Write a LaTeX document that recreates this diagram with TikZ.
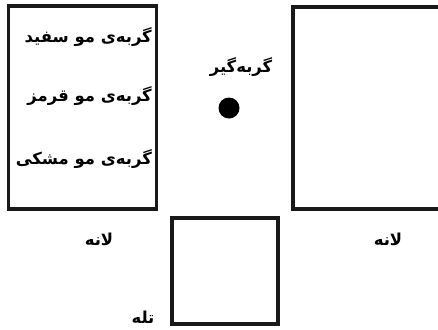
\documentclass[tikz,border=0pt]{standalone}
\usepackage{fontspec}
\newfontfamily\arabicfont[Script=Arabic]{DejaVu Sans}
\TeXXeTstate=1
\begin{document}
\begin{tikzpicture}[x=1bp,y=-1bp,
  box/.style={draw=black!90,line width=3.2bp},
  lbl/.style={font=\arabicfont\bfseries\fontsize{16.5}{18}\selectfont,inner sep=0pt},
  innerlbl/.style={lbl,anchor=east}]
\useasboundingbox (0,0) rectangle (438,329);
\draw[box] (8.5,6) rectangle (156.5,209);
\draw[box] (293,7) rectangle (450,209);
\draw[box] (172,218) rectangle (278,324);
\node[innerlbl] (t1) at (152,37) {\beginR گربه‌ی مو سفید\endR};
\node[innerlbl] (t2) at (152,96) {\beginR گربه‌ی مو قرمز\endR};
\node[innerlbl] (t3) at (152,159) {\beginR گربه‌ی مو مشکی\endR};
\node[lbl] (catcher) at (241,67) {\beginR گربه‌گیر\endR};
\fill (229,108) circle (10.5);
\node[lbl] (nest1) at (99,239) {\beginR لانه\endR};
\node[lbl] (nest2) at (388,239) {\beginR لانه\endR};
\node[lbl] (trap) at (143,317) {\beginR تله\endR};
\end{tikzpicture}
\end{document}
